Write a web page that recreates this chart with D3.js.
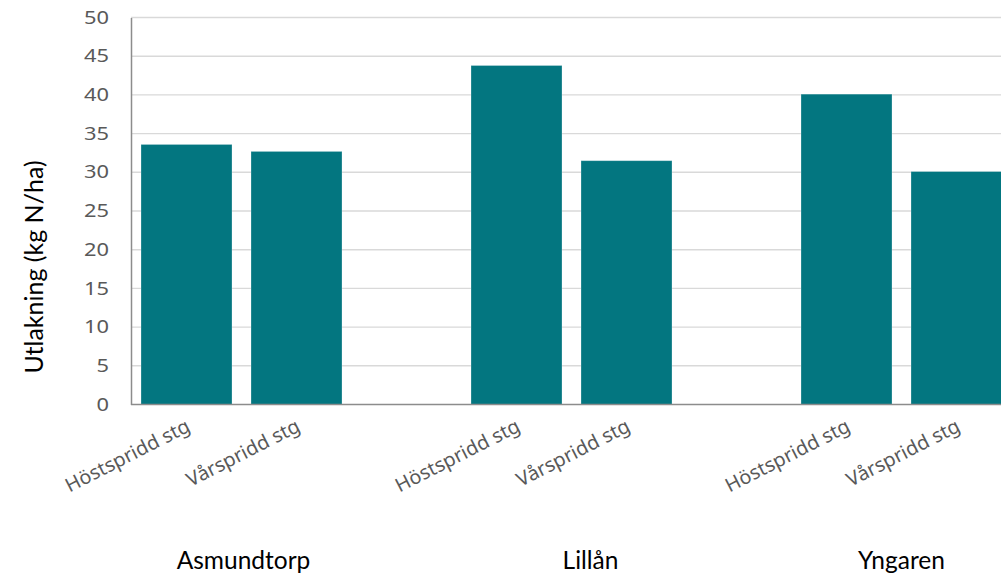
<!DOCTYPE html>
<html>
<head>
<meta charset="utf-8">
<script src="https://cdn.jsdelivr.net/npm/d3@7"></script>
<style>
  html, body { margin: 0; padding: 0; background: #fff; overflow: hidden; }
  svg { display: block; }
</style>
</head>
<body>
<svg id="chart" width="1001" height="574"></svg>
<script>
// ---- data ----
const groups = ["Asmundtorp", "Lillån", "Yngaren"];
const treatments = ["Höstspridd stg", "Vårspridd stg"];
const values = [
  [33.6, 32.7],   // Asmundtorp
  [43.8, 31.5],   // Lillån
  [40.1, 30.1]    // Yngaren
];
const yTicks = [0, 5, 10, 15, 20, 25, 30, 35, 40, 45, 50];
const yTitle = "Utlakning (kg N/ha)";

// ---- layout ----
const svg = d3.select("#chart");
const plotLeft = 131, plotTop = 17.5, plotBottom = 404.5;
const slotsPerGroup = 3; // two bars + one empty slot
const slots = [];
groups.forEach((g) => {
  for (let s = 0; s < slotsPerGroup; s++) slots.push(g + "|" + s);
});
const step = 110;
const x = d3.scaleBand()
  .domain(slots)
  .range([plotLeft - 1, plotLeft - 1 + step * (slots.length - 0.1727 + 0.2)])
  .paddingInner(0.1727)
  .paddingOuter(0.1);
const y = d3.scaleLinear().domain([0, 50]).range([plotBottom, plotTop]);

const tickColor = "#595959";
const barColor = "#037680";
const tickFont = "'Noto Sans', 'Open Sans', sans-serif";
const labelFont = "Lato, sans-serif";

// gridlines
svg.append("g")
  .selectAll("line")
  .data(yTicks.filter(t => t > 0))
  .join("line")
  .attr("x1", plotLeft).attr("x2", 1001)
  .attr("y1", d => y(d)).attr("y2", d => y(d))
  .attr("stroke", "#d9d9d9").attr("stroke-width", 1.4);

// bars
const barData = [];
groups.forEach((g, gi) => treatments.forEach((t, ti) => {
  barData.push({ key: g + "|" + ti, group: g, treatment: t, value: values[gi][ti] });
}));
svg.append("g")
  .selectAll("rect")
  .data(barData)
  .join("rect")
  .attr("x", d => x(d.key))
  .attr("width", x.bandwidth())
  .attr("y", d => y(d.value))
  .attr("height", d => y(0) - y(d.value))
  .attr("fill", barColor)
  .attr("stroke", "#ffffff").attr("stroke-opacity", 0.35).attr("stroke-width", 0.8);

// y axis
const yAxis = d3.axisLeft(y).tickValues(yTicks).tickSize(0).tickPadding(22);
const yg = svg.append("g").attr("transform", `translate(${plotLeft},0)`).call(yAxis);
yg.select(".domain").attr("stroke", "#8c8c8c").attr("stroke-width", 1.5);
yg.selectAll("text")
  .attr("fill", tickColor)
  .style("font-family", tickFont)
  .style("font-size", "17.5px");
(function () {
  const texts = yg.selectAll("text").nodes();
  const ref = texts.find(t => t.textContent === "50");
  const k = 25 / ref.getComputedTextLength();
  texts.forEach(t => {
    const w = t.getComputedTextLength();
    t.setAttribute("textLength", w * k);
    t.setAttribute("lengthAdjust", "spacingAndGlyphs");
  });
})();

// x axis baseline
svg.append("line")
  .attr("x1", plotLeft).attr("x2", 1001)
  .attr("y1", y(0)).attr("y2", y(0))
  .attr("stroke", "#8c8c8c").attr("stroke-width", 1.5);

// rotated category labels
const catLabels = svg.append("g")
  .selectAll("text")
  .data(barData)
  .join("text")
  .attr("transform", d => `translate(${x(d.key) + x.bandwidth() / 2 + 5},${y(0) + 26}) rotate(-27)`)
  .attr("text-anchor", "end")
  .attr("fill", tickColor)
  .style("font-family", tickFont)
  .style("font-size", "19.5px")
  .text(d => d.treatment);
(function () {
  const nodes = catLabels.nodes();
  const k = 137 / nodes[0].getComputedTextLength();
  nodes.forEach(t => {
    t.setAttribute("textLength", t.getComputedTextLength() * k);
    t.setAttribute("lengthAdjust", "spacingAndGlyphs");
  });
})();

// group labels
const groupShift = [2, 19, 0];
svg.append("g")
  .selectAll("text")
  .data(groups)
  .join("text")
  .attr("x", (g, i) => (x(g + "|0") + x(g + "|1") + x.bandwidth()) / 2 + groupShift[i])
  .attr("y", 569)
  .attr("text-anchor", "middle")
  .attr("fill", "#000")
  .style("font-family", labelFont)
  .style("font-size", "24.5px")
  .text(d => d);

// y title
svg.append("text")
  .attr("transform", `translate(43,267) rotate(-90)`)
  .attr("text-anchor", "middle")
  .attr("fill", "#000")
  .style("font-family", labelFont)
  .style("font-size", "25px")
  .text(yTitle);
</script>
</body>
</html>
